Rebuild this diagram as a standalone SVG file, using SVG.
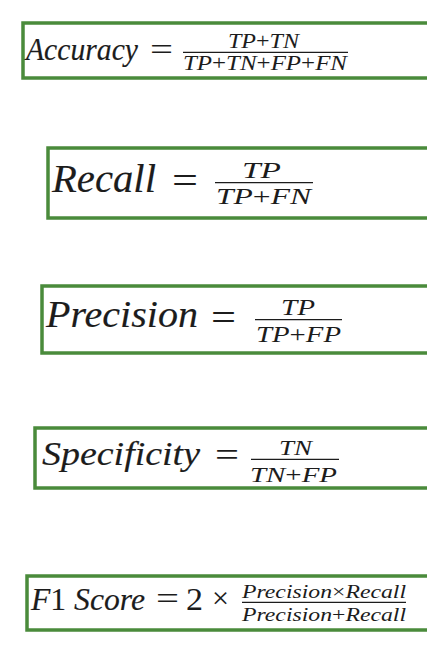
<svg xmlns="http://www.w3.org/2000/svg" width="427" height="645" viewBox="0 0 427 645">
  <style>
    .box { fill: #ffffff; stroke: #4a8b3b; stroke-width: 3.5; }
    .t { font-family: "Liberation Serif", "DejaVu Serif", serif; font-style: italic; fill: #1c1c1c; stroke: #1c1c1c; stroke-width: 0.15; }
    .f { font-family: "Liberation Serif", "DejaVu Serif", serif; font-style: italic; fill: #1c1c1c; }
    .u { font-style: normal; }
    .eq { font-family: "Liberation Serif", "DejaVu Serif", serif; fill: #1c1c1c; }
    .bar { stroke: #1c1c1c; stroke-width: 1.2; }
  </style>
  <rect x="0" y="0" width="427" height="645" fill="#ffffff"/>

  <g id="accuracy">
    <rect class="box" x="23" y="23" width="420" height="55"/>
    <text class="t" x="26" y="60" font-size="32" textLength="112" lengthAdjust="spacingAndGlyphs">Accuracy</text>
    <text class="eq" x="150" y="60" font-size="32" textLength="23" lengthAdjust="spacingAndGlyphs">=</text>
    <text class="f" x="228" y="48" font-size="20" textLength="71" lengthAdjust="spacingAndGlyphs">TP<tspan class="u">+</tspan>TN</text>
    <line class="bar" x1="183" y1="52.3" x2="348" y2="52.3"/>
    <text class="f" x="183" y="70" font-size="20" textLength="164" lengthAdjust="spacingAndGlyphs">TP<tspan class="u">+</tspan>TN<tspan class="u">+</tspan>FP<tspan class="u">+</tspan>FN</text>
  </g>

  <g id="recall">
    <rect class="box" x="48" y="148" width="395" height="70"/>
    <text class="t" x="52" y="192" font-size="39" textLength="104" lengthAdjust="spacingAndGlyphs">Recall</text>
    <text class="eq" x="172" y="193" font-size="38" textLength="26" lengthAdjust="spacingAndGlyphs">=</text>
    <text class="f" x="242" y="178" font-size="24" textLength="39" lengthAdjust="spacingAndGlyphs">TP</text>
    <line class="bar" x1="215" y1="182.7" x2="313" y2="182.7"/>
    <text class="f" x="216" y="204" font-size="24" textLength="95" lengthAdjust="spacingAndGlyphs">TP<tspan class="u">+</tspan>FN</text>
  </g>

  <g id="precision">
    <rect class="box" x="42" y="286" width="401" height="67"/>
    <text class="t" x="46" y="327" font-size="38" textLength="152" lengthAdjust="spacingAndGlyphs">Precision</text>
    <text class="eq" x="211" y="330" font-size="37" textLength="25" lengthAdjust="spacingAndGlyphs">=</text>
    <text class="f" x="281" y="315" font-size="23" textLength="34" lengthAdjust="spacingAndGlyphs">TP</text>
    <line class="bar" x1="255" y1="319.7" x2="342" y2="319.7"/>
    <text class="f" x="256" y="342" font-size="23" textLength="85" lengthAdjust="spacingAndGlyphs">TP<tspan class="u">+</tspan>FP</text>
  </g>

  <g id="specificity">
    <rect class="box" x="35" y="428" width="408" height="60"/>
    <text class="t" x="42" y="465" font-size="34" textLength="158" lengthAdjust="spacingAndGlyphs">Specificity</text>
    <text class="eq" x="215" y="466" font-size="34" textLength="24" lengthAdjust="spacingAndGlyphs">=</text>
    <text class="f" x="279" y="455" font-size="22" textLength="33" lengthAdjust="spacingAndGlyphs">TN</text>
    <line class="bar" x1="251" y1="459.3" x2="339" y2="459.3"/>
    <text class="f" x="250" y="482" font-size="22" textLength="87" lengthAdjust="spacingAndGlyphs">TN<tspan class="u">+</tspan>FP</text>
  </g>

  <g id="f1score">
    <rect class="box" x="27" y="576" width="416" height="54"/>
    <text class="t" x="31" y="610" font-size="32" textLength="114" lengthAdjust="spacingAndGlyphs">F<tspan class="u">1</tspan> Score</text>
    <text class="eq" x="156" y="609" font-size="32" textLength="23" lengthAdjust="spacingAndGlyphs">=</text>
    <text class="eq" x="186" y="610" font-size="32" textLength="17" lengthAdjust="spacingAndGlyphs">2</text>
    <text class="eq" x="212" y="608" font-size="30" textLength="17" lengthAdjust="spacingAndGlyphs">×</text>
    <text class="f" x="242" y="598" font-size="18" textLength="164" lengthAdjust="spacingAndGlyphs">Precision<tspan class="u">×</tspan>Recall</text>
    <line class="bar" x1="242" y1="602.3" x2="406" y2="602.3"/>
    <text class="f" x="242" y="621" font-size="18" textLength="164" lengthAdjust="spacingAndGlyphs">Precision<tspan class="u">+</tspan>Recall</text>
  </g>
</svg>
